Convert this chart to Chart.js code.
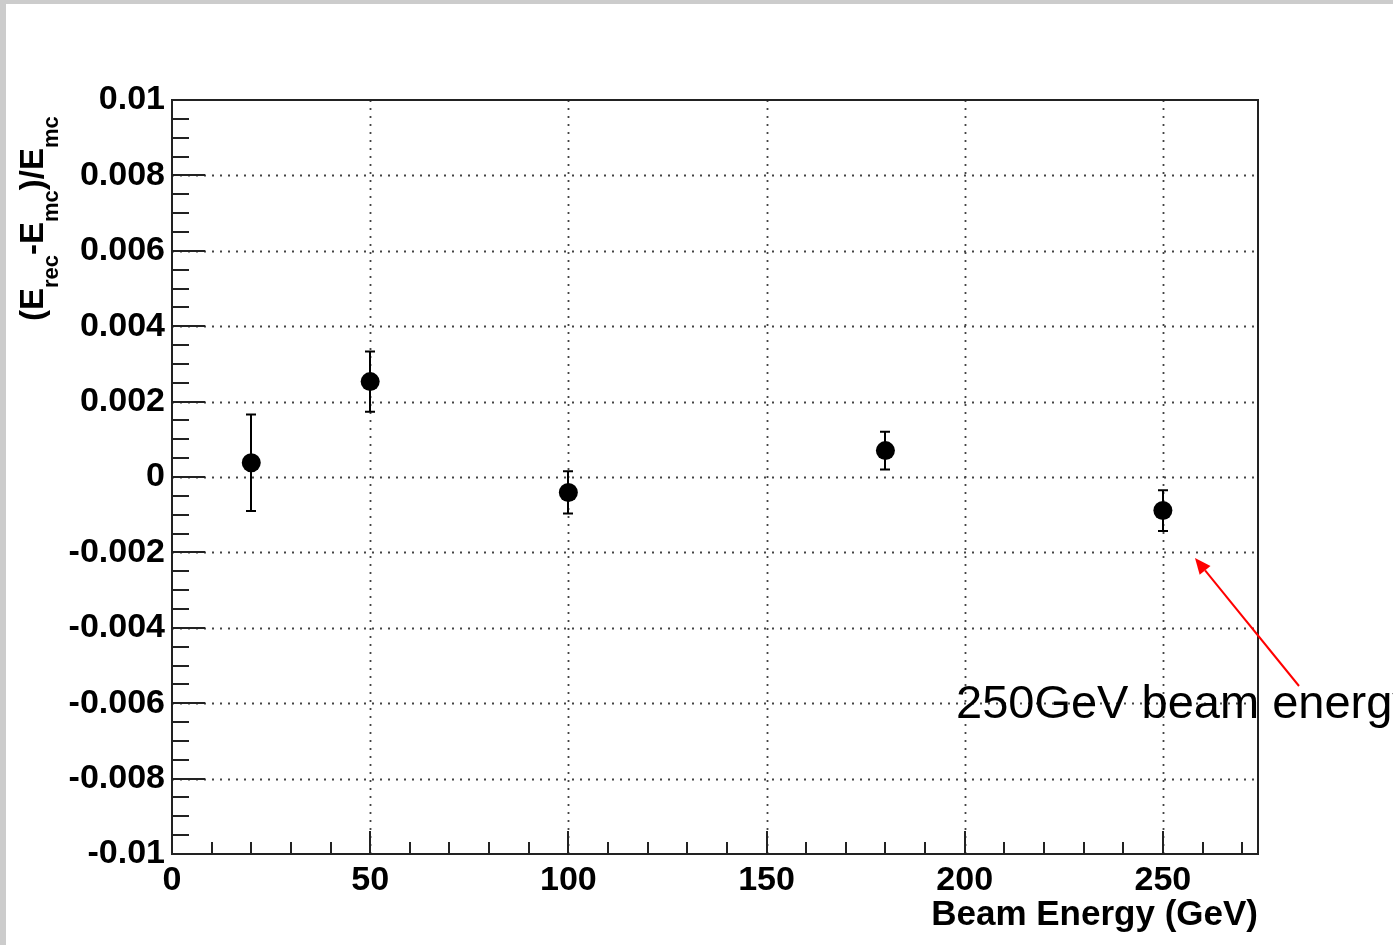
<!DOCTYPE html>
<html>
<head>
<meta charset="utf-8">
<script src="https://cdn.jsdelivr.net/npm/chart.js@4"></script>
<style>
  html, body { margin: 0; padding: 0; background: #ffffff; overflow: hidden; }
  #wrap { position: absolute; left: 0; top: 0; width: 1393px; height: 945px; }
</style>
</head>
<body>
<div id="wrap"><canvas id="c" width="1393" height="945"></canvas></div>
<script>
// ---- Data ----
const beamEnergies = [20, 50, 100, 180, 250];
const relDiff      = [0.00038, 0.00253, -0.00041, 0.00070, -0.00089];
const relDiffErr   = [0.00128, 0.00080, 0.00056, 0.00050, 0.00054];

const xTickValues = [0, 50, 100, 150, 200, 250];
const xTickLabels = ['0', '50', '100', '150', '200', '250'];
const yTickValues = [-0.01, -0.008, -0.006, -0.004, -0.002, 0, 0.002, 0.004, 0.006, 0.008, 0.01];
const yTickLabels = ['-0.01', '-0.008', '-0.006', '-0.004', '-0.002', '0', '0.002', '0.004', '0.006', '0.008', '0.01'];
const xMinorStep = 10;
const yMinorStep = 0.0005;

const xTitle = 'Beam Energy (GeV)';
// y title pieces: [text, isSubscript]
const yTitleParts = [['(E', false], ['rec', true], ['-E', false], ['mc', true], [')/E', false], ['mc', true]];
const annotationText = '250GeV beam energy';

const FONT = '"Liberation Sans", Arial, Helvetica, sans-serif';

const rootStyle = {
  id: 'rootStyle',
  beforeDraw(chart) {
    const ctx = chart.ctx;
    ctx.save();
    ctx.fillStyle = '#ffffff';
    ctx.fillRect(0, 0, chart.width, chart.height);
    ctx.fillStyle = '#cccccc';
    ctx.fillRect(0, 0, chart.width, 4);
    ctx.fillRect(0, 0, 6, chart.height);
    ctx.restore();
  },
  beforeDatasetsDraw(chart) {
    const ctx = chart.ctx;
    const xs = chart.scales.x, ys = chart.scales.y;
    const a = chart.chartArea;
    ctx.save();
    // dotted grid
    ctx.strokeStyle = '#444444';
    ctx.lineWidth = 1.8;
    ctx.setLineDash([2, 6]);
    xTickValues.forEach(v => {
      const px = Math.round(xs.getPixelForValue(v)) + 0.5;
      if (px <= a.left + 2 || px >= a.right - 2) return;
      ctx.beginPath(); ctx.moveTo(px, a.bottom); ctx.lineTo(px, a.top); ctx.stroke();
    });
    yTickValues.forEach(v => {
      const py = Math.round(ys.getPixelForValue(v)) + 0.5;
      if (py <= a.top + 2 || py >= a.bottom - 2) return;
      ctx.beginPath(); ctx.moveTo(a.left, py); ctx.lineTo(a.right, py); ctx.stroke();
    });
    ctx.setLineDash([]);
    // frame
    ctx.strokeStyle = '#222222';
    ctx.lineWidth = 2;
    ctx.strokeRect(a.left, a.top, a.right - a.left, a.bottom - a.top);
    // y ticks (inside)
    ctx.beginPath();
    const yMin = ys.min, yMax = ys.max;
    const nY = Math.round((yMax - yMin) / yMinorStep);
    for (let i = 0; i <= nY; i++) {
      const v = yMin + i * yMinorStep;
      const py = Math.round(ys.getPixelForValue(v));
      const major = (i % 4) === 0;
      ctx.moveTo(a.left, py);
      ctx.lineTo(a.left + (major ? 33 : 17), py);
    }
    // x ticks (inside)
    const nX = Math.floor(xs.max / xMinorStep);
    for (let i = 0; i <= nX; i++) {
      const v = i * xMinorStep;
      const px = Math.round(xs.getPixelForValue(v));
      const major = (v % 50) === 0;
      ctx.moveTo(px, a.bottom);
      ctx.lineTo(px, a.bottom - (major ? 23 : 12));
    }
    ctx.stroke();
    // error bars
    ctx.strokeStyle = '#000000';
    ctx.lineWidth = 2;
    ctx.beginPath();
    beamEnergies.forEach((e, i) => {
      const px = Math.round(xs.getPixelForValue(e));
      const pt = ys.getPixelForValue(relDiff[i] + relDiffErr[i]);
      const pb = ys.getPixelForValue(relDiff[i] - relDiffErr[i]);
      ctx.moveTo(px, pt); ctx.lineTo(px, pb);
      ctx.moveTo(px - 5, pt); ctx.lineTo(px + 5, pt);
      ctx.moveTo(px - 5, pb); ctx.lineTo(px + 5, pb);
    });
    ctx.stroke();
    ctx.restore();
  },
  afterDraw(chart) {
    const ctx = chart.ctx;
    ctx.save();
    // y axis title with subscripts
    ctx.translate(43, 321);
    ctx.rotate(-Math.PI / 2);
    ctx.fillStyle = '#000000';
    ctx.textAlign = 'left';
    ctx.textBaseline = 'alphabetic';
    let cur = 0;
    yTitleParts.forEach(([t, sub]) => {
      ctx.font = sub ? ('bold 22px ' + FONT) : ('bold 33px ' + FONT);
      ctx.fillText(t, cur, sub ? 15 : 0);
      cur += ctx.measureText(t).width;
    });
    ctx.restore();

    // red arrow annotation
    ctx.save();
    const x0 = 1299, y0 = 686, x1 = 1195, y1 = 558;
    ctx.strokeStyle = '#ff0000';
    ctx.fillStyle = '#ff0000';
    ctx.lineWidth = 2;
    const ang = Math.atan2(y1 - y0, x1 - x0);
    const hl = 16, hw = 7;
    const bx = x1 - hl * Math.cos(ang), by = y1 - hl * Math.sin(ang);
    ctx.beginPath(); ctx.moveTo(x0, y0); ctx.lineTo(bx, by); ctx.stroke();
    ctx.beginPath();
    ctx.moveTo(x1, y1);
    ctx.lineTo(bx + hw * Math.sin(ang), by - hw * Math.cos(ang));
    ctx.lineTo(bx - hw * Math.sin(ang), by + hw * Math.cos(ang));
    ctx.closePath(); ctx.fill();
    ctx.fillStyle = '#000000';
    ctx.font = '47px ' + FONT;
    ctx.textAlign = 'left';
    ctx.textBaseline = 'alphabetic';
    ctx.fillText(annotationText, 956, 718);
    ctx.restore();
  }
};

const chart = new Chart(document.getElementById('c'), {
  type: 'scatter',
  data: {
    datasets: [{
      data: beamEnergies.map((e, i) => ({ x: e, y: relDiff[i] })),
      pointRadius: 9.5,
      pointHoverRadius: 9.5,
      pointBackgroundColor: '#000000',
      pointBorderColor: '#000000',
      pointBorderWidth: 0,
      showLine: false
    }]
  },
  options: {
    responsive: false,
    animation: false,
    events: [],
    layout: { padding: { left: 0, top: 100, right: 135, bottom: 0 } },
    plugins: { legend: { display: false }, tooltip: { enabled: false } },
    scales: {
      x: {
        type: 'linear',
        min: 0,
        max: 274,
        grid: { display: false, drawTicks: false },
        border: { display: false },
        afterBuildTicks(scale) { scale.ticks = xTickValues.map(v => ({ value: v })); },
        afterFit(scale) { scale.height = 91; },
        ticks: {
          padding: 6,
          maxRotation: 0,
          autoSkip: false,
          color: '#000000',
          font: { family: FONT, size: 34, weight: 'bold' },
          callback: (v) => { const i = xTickValues.indexOf(v); return i >= 0 ? xTickLabels[i] : ''; }
        },
        title: {
          display: true,
          text: xTitle,
          align: 'end',
          color: '#000000',
          padding: { top: 0, bottom: 9 },
          font: { family: FONT, size: 35, weight: 'bold' }
        }
      },
      y: {
        type: 'linear',
        min: -0.01,
        max: 0.01,
        grid: { display: false, drawTicks: false },
        border: { display: false },
        afterBuildTicks(scale) { scale.ticks = yTickValues.map(v => ({ value: v })); },
        afterFit(scale) { scale.width = 172; },
        ticks: {
          padding: 7,
          autoSkip: false,
          color: '#000000',
          font: { family: FONT, size: 34, weight: 'bold' },
          callback: (v) => { const i = yTickValues.indexOf(v); return i >= 0 ? yTickLabels[i] : ''; }
        }
      }
    }
  },
  plugins: [rootStyle]
});
</script>
</body>
</html>
